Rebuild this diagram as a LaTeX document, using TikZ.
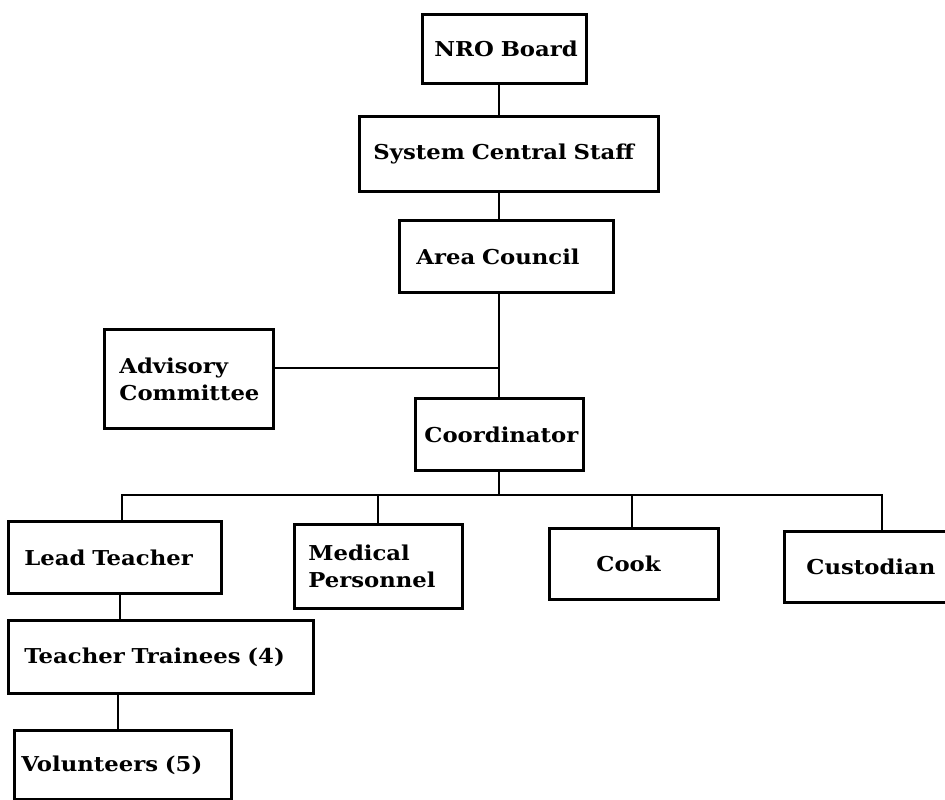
\documentclass[tikz,border=0pt]{standalone}
\usepackage{fontspec}
\setmainfont[FakeStretch=1.11]{DejaVu Serif}
\begin{document}
\begin{tikzpicture}[x=1pt,y=-1pt,
  box/.style={draw, line width=2.8pt, anchor=north west, align=left, inner ysep=0pt,
    font=\bfseries\fontsize{20.5}{27}\selectfont},
  link/.style={line width=2.2pt}]
\useasboundingbox (0,0) rectangle (945,800);
% boxes
\node[box, inner xsep=12pt, text width=140pt, minimum height=69pt] (nro)   at (421,13)  {NRO~Board};
\node[box, inner xsep=14pt, text width=271pt, minimum height=75pt] (scs)   at (358,115) {System~Central~Staff};
\node[box, inner xsep=17pt, text width=180pt, minimum height=72pt] (area)  at (398,219) {Area~Council};
\node[box, inner xsep=15pt, text width=139pt, minimum height=99pt] (adv)   at (103,328) {Advisory\\Committee};
\node[box, inner xsep=9pt,  text width=150pt, minimum height=72pt] (coord) at (414,397) {Coordinator};
\node[box, inner xsep=16pt, text width=181pt, minimum height=72pt] (lead)  at (7,520)   {Lead~Teacher};
\node[box, inner xsep=14pt, text width=140pt, minimum height=84pt] (med)   at (293,523) {Medical\\Personnel};
\node[box, inner xsep=47pt, text width=75pt,  minimum height=71pt] (cook)  at (548,527) {Cook};
\node[box, inner xsep=22pt, text width=128pt, minimum height=71pt] (cust)  at (783,530) {Custodian};
\node[box, inner xsep=16pt, text width=273pt, minimum height=73pt] (tt)    at (7,619)   {Teacher~Trainees~(4)};
\node[box, inner xsep=7pt,  text width=203pt, minimum height=69pt] (vol)   at (13,729)  {Volunteers~(5)};
% reference coordinates
\coordinate (sp)   at (499,0);
\coordinate (advj) at (499,368);
\coordinate (bus)  at (499,495);
\coordinate (busL) at (122,495);
\coordinate (busR) at (882,495);
\coordinate (mx)   at (378,495);
\coordinate (cx)   at (632,495);
\coordinate (lx)   at (120,0);
\coordinate (tx)   at (118,0);
% connectors
\draw[link] (nro.south -| sp) -- (scs.north -| sp);
\draw[link] (scs.south -| sp) -- (area.north -| sp);
\draw[link] (area.south -| sp) -- (coord.north -| sp);
\draw[link] (adv.east |- advj) -- (advj);
\draw[link] (coord.south -| sp) -- (bus);
\draw[link] (lead.north -| busL) -- (busL) -- (busR) -- (cust.north -| busR);
\draw[link] (med.north -| mx) -- (mx);
\draw[link] (cook.north -| cx) -- (cx);
\draw[link] (lead.south -| lx) -- (tt.north -| lx);
\draw[link] (tt.south -| tx) -- (vol.north -| tx);
\end{tikzpicture}
\end{document}
